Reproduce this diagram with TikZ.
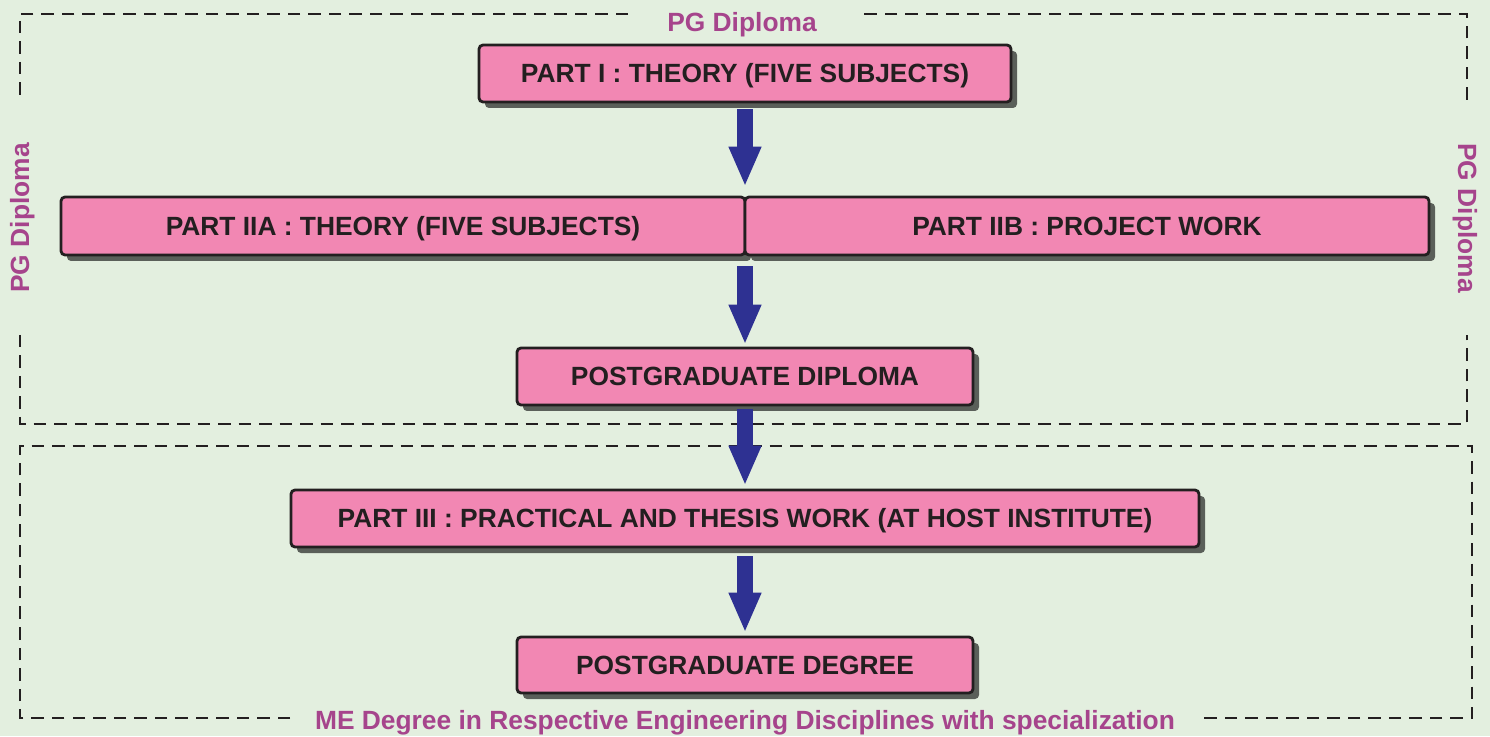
\documentclass[tikz,border=0pt]{standalone}
\usepackage{fontspec}
\setmainfont{Liberation Sans}
\usetikzlibrary{arrows.meta,shadows}

\definecolor{bggreen}{RGB}{227,239,223}
\definecolor{stagepink}{RGB}{242,135,179}
\definecolor{edgedark}{RGB}{35,31,32}
\definecolor{arrowblue}{RGB}{46,49,146}
\definecolor{labelpurple}{RGB}{166,68,140}

\tikzset{
  stage/.style={draw=edgedark, line width=1.6pt, fill=stagepink, rounded corners=0.08cm,
    text=edgedark, font=\bfseries\fontsize{15}{18}\selectfont, inner sep=0pt,
    text height=10.8pt, text depth=0pt,
    drop shadow={shadow xshift=0.12cm, shadow yshift=-0.12cm, fill=black, opacity=0.6}},
  flowarrow/.style={arrowblue, line width=0.31cm, -{Triangle[width=0.6cm,length=0.8cm]}},
  frame/.style={edgedark, line width=1.4pt, dash pattern=on 0.25cm off 0.16cm},
  framelabel/.style={text=labelpurple, font=\bfseries\fontsize{15}{18}\selectfont,
    inner sep=0pt, anchor=base}
}

\begin{document}
\begin{tikzpicture}
% The background
\useasboundingbox (0,0) rectangle (29.8,14.72);
\fill[bggreen] (0,0) rectangle (29.8,14.72);

% The PG Diploma frame
\draw[frame] (12.56,14.44) -| (0.4,12.7);
\draw[frame] (0.4,8.02) |- (29.34,6.24) -- (29.34,8.02);
\draw[frame] (29.34,12.72) |- (17.16,14.44);
% The ME Degree frame
\draw[frame] (5.8,0.36) -| (0.4,5.8) -| (29.44,0.36) -- (24.0,0.36);

% The frame labels
\node[framelabel] (pgtop) at (14.84,14.08) {PG Diploma};
\node[framelabel, rotate=90] (pgleft) at (0.58,10.36) {PG Diploma};
\node[framelabel, rotate=-90] (pgright) at (29.16,10.36) {PG Diploma};
\node[framelabel] (melabel) at (14.9,0.14) {ME Degree in Respective Engineering Disciplines with specialization};

% The stages
\node[stage, minimum width=10.64cm, minimum height=1.14cm] (part1) at (14.9,13.25) {PART I : THEORY (FIVE SUBJECTS)};
\node[stage, minimum width=13.68cm, minimum height=1.16cm] (part2a) at (8.06,10.2) {PART IIA : THEORY (FIVE SUBJECTS)};
\node[stage, minimum width=13.68cm, minimum height=1.16cm] (part2b) at (21.74,10.2) {PART IIB : PROJECT WORK};
\node[stage, minimum width=9.12cm, minimum height=1.14cm] (pgdip) at (14.9,7.19) {POSTGRADUATE DIPLOMA};
\node[stage, minimum width=18.16cm, minimum height=1.14cm] (part3) at (14.9,4.35) {PART III : PRACTICAL AND THESIS WORK (AT HOST INSTITUTE)};
\node[stage, minimum width=9.12cm, minimum height=1.12cm] (pgdeg) at (14.9,1.42) {POSTGRADUATE DEGREE};

% The arrows
\draw[flowarrow, shorten <=0.12cm, shorten >=0.18cm] (part1.south) -- (part1.south |- part2a.north);
\draw[flowarrow, shorten <=0.2cm, shorten >=0.04cm] (pgdip.north |- part2a.south) -- (pgdip.north);
\draw[flowarrow, shorten <=0.06cm, shorten >=0.06cm] (pgdip.south) -- (part3.north);
\draw[flowarrow, shorten <=0.16cm, shorten >=0.06cm] (part3.south) -- (pgdeg.north);

\end{tikzpicture}
\end{document}
